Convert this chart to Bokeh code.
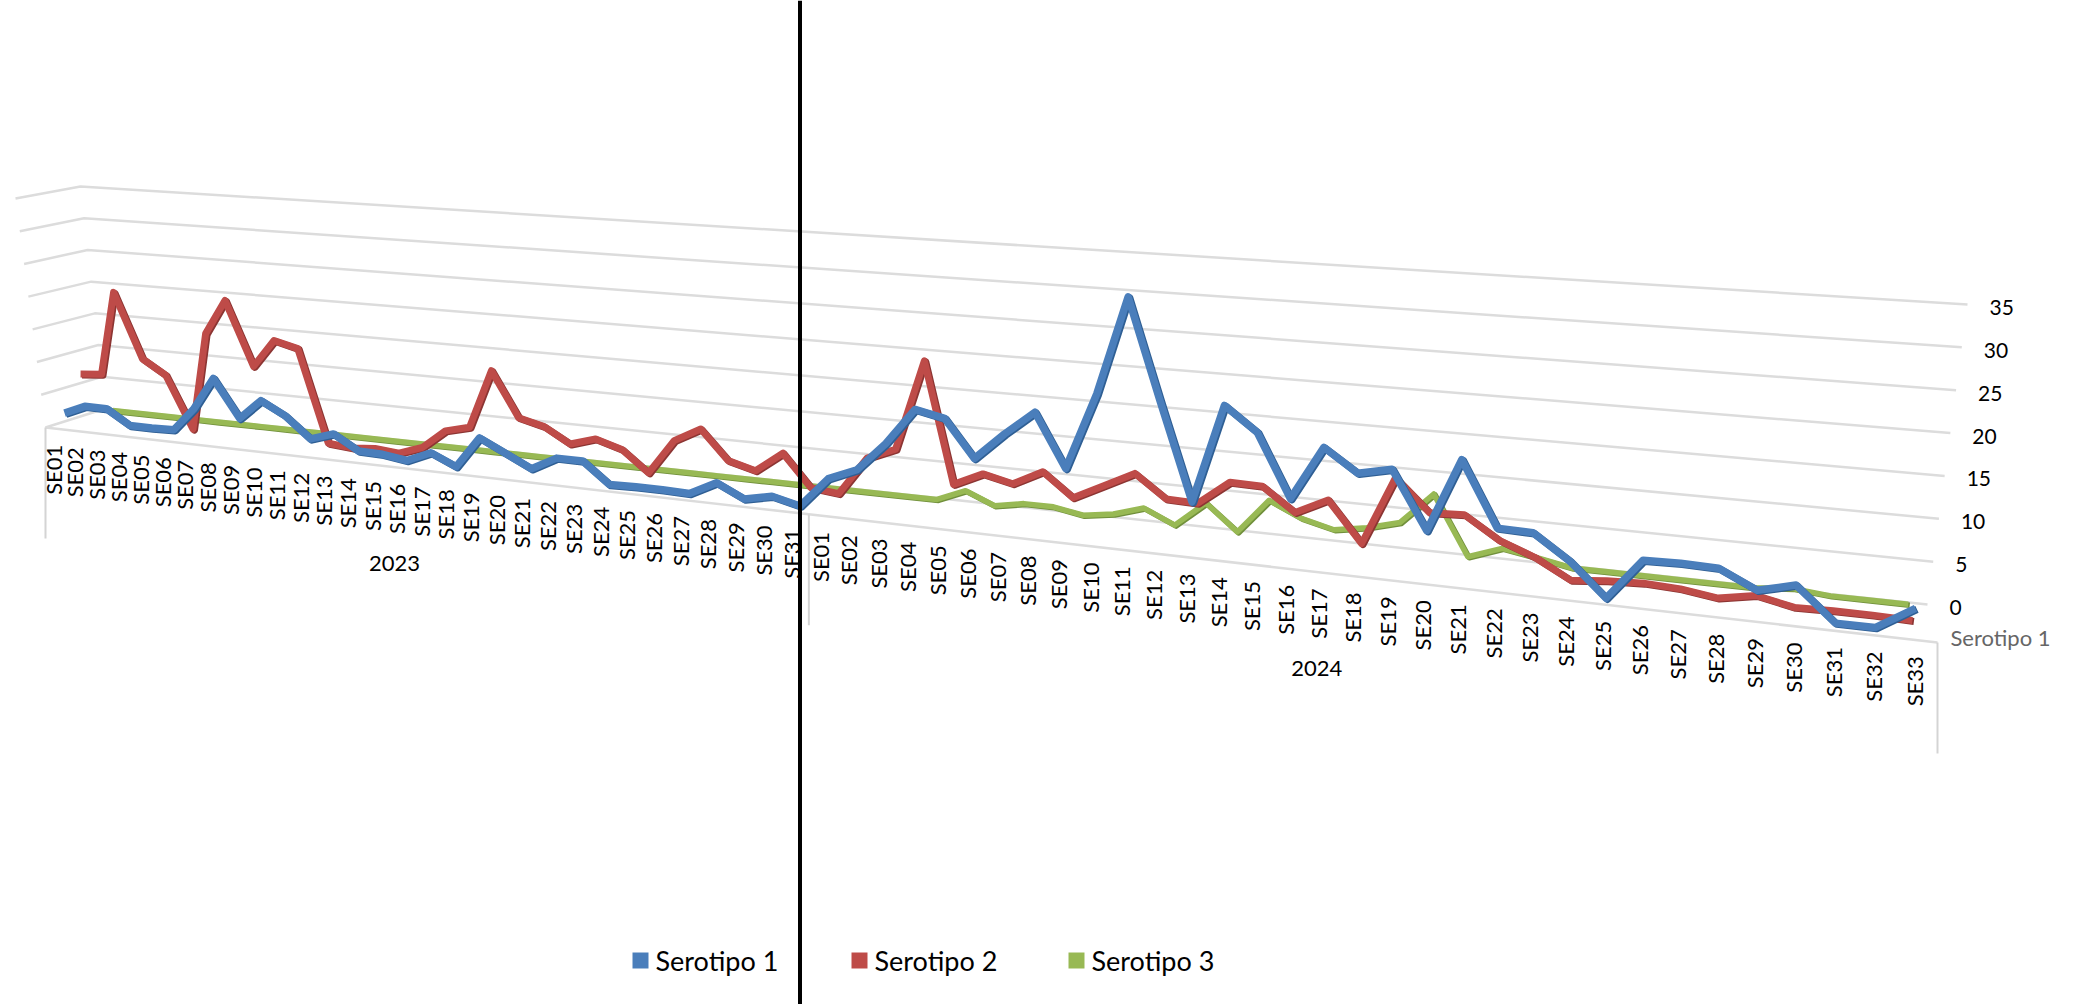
from bokeh.plotting import figure
from bokeh.models import Range1d, Span
from bokeh.core.properties import value
from bokeh.embed import file_html
from bokeh.resources import INLINE
import numpy as np

weeks_2023 = [f"SE{i:02d}" for i in range(1, 32)]
weeks_2024 = [f"SE{i:02d}" for i in range(1, 34)]
years = ["2023", "2024"]
y_ticks = [0, 5, 10, 15, 20, 25, 30, 35]

serotipo_1 = [1.9, 3.3, 3.3, 1.1, 1.1, 1.2, 4.7, 9.6, 4.0, 7.0, 5.1, 2.1, 3.2, 1.1, 1.0, 0.5,
              2.0, 0.4, 4.9, 3.1, 1.3, 3.2, 3.2, 0.3, 0.4, 0.4, 0.3, 2.2, 0.4, 1.2, 0.3,
              4.4, 6.0, 9.9, 14.8, 14.0, 9.1, 12.7, 15.9, 9.0, 19.0, 31.8, 18.9, 6.4, 19.0, 16.0,
              8.1, 14.9, 12.1, 13.0, 5.9, 15.0, 7.1, 7.0, 4.1, 0.1, 5.1, 5.2, 5.1, 3.0, 4.1, 0.2, 0.2, 2.9]
serotipo_2 = [7.0, 7.3, 20.2, 10.3, 8.1, 0.3, 15.1, 20.4, 10.8, 15.0, 14.1, 0.4, 0.1, 0.4, 0.1, 1.3,
              4.1, 5.0, 13.5, 7.1, 6.2, 4.1, 5.2, 4.1, 1.2, 6.1, 8.1, 4.1, 3.1, 5.9, 1.6,
              1.2, 6.4, 8.0, 20.2, 4.1, 5.9, 5.0, 7.0, 4.0, 6.0, 8.0, 5.1, 5.0, 8.1, 8.0,
              5.1, 7.1, 2.1, 10.7, 6.8, 7.0, 4.3, 2.7, 0.4, 0.8, 1.0, 0.8, 0.2, 1.0, 0.1, 0.2, 0.2, 0.1]
serotipo_3 = [0] * 35 + [1.6, 0, 0.7, 0.7, 0, 0.6, 1.8, 0, 3.3, 0, 4.5, 2.6, 1.6, 2.3, 3.4, 7.4, 0, 1.5, 0.8,
                         0, 0, 0, 0, 0, 0, 0.4, 0, 0, 0]
names = ["Serotipo 1", "Serotipo 2", "Serotipo 3"]
colors = ["#4a7ebb", "#be4b48", "#98b954"]
darks = ["#2f5f94", "#8c3533", "#71903c"]
widths = [7.5, 7.0, 5.5]
depths = [5 / 6, 1 / 2, 0.05]

FONT = "Lato"
VMAX = 35.0
PERSP = 0.28
BL, BR = np.array([105.0, 408.0]), np.array([1927.0, 604.0])
FL, FR = np.array([45.0, 427.0]), np.array([1937.0, 642.0])
BLT, BRT = np.array([80.0, 186.0]), np.array([1967.0, 304.0])
FLT, FRT = np.array([15.0, 198.0]), np.array([1979.0, 333.0])


def along(t):
    t = np.asarray(t, dtype=float)
    return (1 - PERSP) * t / (1 - PERSP * t)


def project(s, d, v):
    s = np.asarray(s, dtype=float)[..., None]
    v = np.asarray(v, dtype=float)[..., None] / VMAX
    back = BL + (BR - BL) * s
    front = FL + (FR - FL) * s
    back_t = BLT + (BRT - BLT) * s
    front_t = FLT + (FRT - FLT) * s
    floor = back + (front - back) * d
    top = back_t + (front_t - back_t) * d
    return floor + (top - floor) * v


p = figure(width=2075, height=1004, x_range=Range1d(0, 2075), y_range=Range1d(1004, 0),
           output_backend="svg", toolbar_location=None, min_border=0, outline_line_color=None)
p.axis.visible = False
p.grid.visible = False

GRID = "#dcdcdc"
for k in y_ticks:
    a = project(np.array(0.0), 0.0, k)
    b = project(np.array(1.0), 0.0, k)
    c = project(np.array(0.0), 1.0, k)
    p.line([c[0], a[0], b[0]], [c[1], a[1], b[1]], line_color=GRID, line_width=2.5)
a = project(np.array(0.0), 1.0, 0)
b = project(np.array(1.0), 1.0, 0)
p.line([a[0], b[0]], [a[1], b[1]], line_color=GRID, line_width=2.5)
n23, n = len(weeks_2023), len(weeks_2023) + len(weeks_2024)
for frac in [0.0, n23 / n, 1.0]:
    q = project(along(frac), 1.0, 0)
    p.line([q[0], q[0]], [q[1], q[1] + 111], line_color="#d4d4d4", line_width=2)

t = (np.arange(n) + 0.5) / n
s = along(t)
all_vals = [serotipo_1, serotipo_2, serotipo_3]
for idx in [2, 1, 0]:
    vals = np.array(all_vals[idx])
    pts = project(s, depths[idx], vals)
    xs = np.minimum(project(s, depths[idx], np.zeros_like(vals))[:, 0], pts[:, 0])
    ys = pts[:, 1]
    p.line(xs + 1.5, ys + 1.0, line_color=darks[idx], line_width=widths[idx], line_join="round")
    p.line(xs, ys, line_color=colors[idx], line_width=widths[idx], line_join="round")

labels = weeks_2023 + weeks_2024
lab = project(s, 1.0, 0)
p.text(lab[:, 0] - 3, lab[:, 1] + 16, text=labels, angle=np.pi / 2, text_align="right", text_baseline="middle",
       text_font=value(FONT), text_font_size="22px", text_color="#000000")

for yr, a0, a1 in [(years[0], 0, n23), (years[1], n23, n)]:
    q = project(along((a0 + a1) / 2 / n), 1.0, 0)
    p.text([q[0] - 5], [q[1] + 96], text=[yr], text_align="center", text_baseline="middle",
           text_font=value(FONT), text_font_size="22px", text_color="#000000")

for k in y_ticks:
    q = project(np.array(1.0), 0.0, k)
    p.text([q[0] + 22], [q[1] + 3], text=[str(k)], text_align="left", text_baseline="middle",
           text_font=value(FONT), text_font_size="21px", text_color="#000000")

p.text([1950], [637], text=[names[0]], text_align="left", text_baseline="middle",
       text_font=value(FONT), text_font_size="22px", text_color="#666666")

p.add_layout(Span(location=799.5, dimension="height", line_color="#000000", line_width=4))

for name, col, x0 in zip(names, colors, [632, 851, 1068]):
    p.quad(left=[x0], right=[x0 + 16], top=[952], bottom=[968], fill_color=col, line_color=None)
    p.text([x0 + 23], [960], text=[name], text_align="left", text_baseline="middle",
           text_font=value(FONT), text_font_size="27px", text_color="#000000")

open("out.html", "w").write(file_html(p, INLINE))
